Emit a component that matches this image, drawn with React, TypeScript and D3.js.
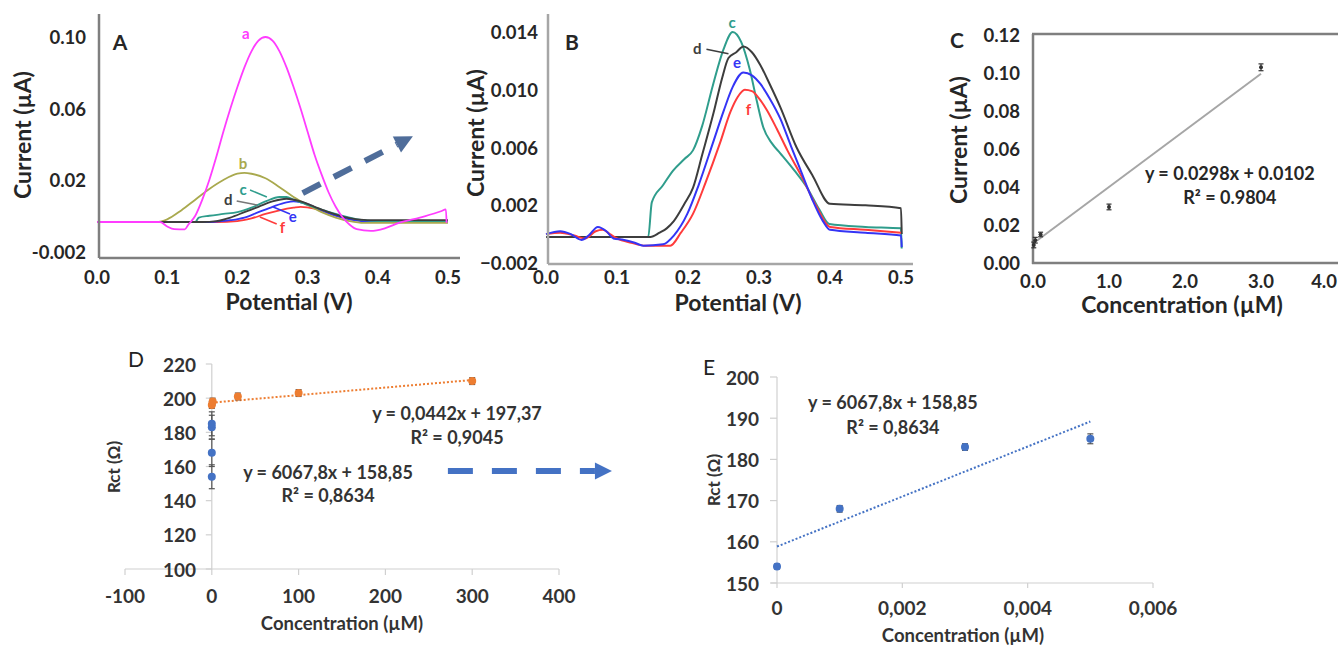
import React, { useEffect, useRef } from 'react';
import * as d3 from 'd3';

type Pt = [number, number];

// ---- Panel A: DPV curves (potential V, current uA) ----
const curveA_a: Pt[] = [[0, -0.0035], [0.09, -0.0035], [0.1, -0.006], [0.11, -0.0075], [0.125, -0.0076], [0.13, -0.005], [0.14, 0.0], [0.15, 0.009], [0.16, 0.02], [0.17, 0.033], [0.18, 0.047], [0.19, 0.06], [0.2, 0.072], [0.21, 0.083], [0.22, 0.092], [0.23, 0.098], [0.24, 0.1], [0.25, 0.098], [0.26, 0.092], [0.27, 0.083], [0.28, 0.072], [0.29, 0.06], [0.3, 0.047], [0.31, 0.034], [0.32, 0.023], [0.33, 0.013], [0.34, 0.005], [0.35, -0.001], [0.36, -0.005], [0.37, -0.0075], [0.39, -0.0085], [0.41, -0.007], [0.43, -0.004], [0.46, -0.001], [0.49, 0.0025], [0.497, 0.0036], [0.498, -0.004]];
const curveA_b: Pt[] = [[0, -0.0035], [0.085, -0.0035], [0.1, -0.002], [0.12, 0.003], [0.14, 0.009], [0.16, 0.015], [0.18, 0.02], [0.2, 0.0235], [0.21, 0.024], [0.22, 0.0235], [0.24, 0.021], [0.26, 0.016], [0.28, 0.0105], [0.3, 0.006], [0.32, 0.002], [0.34, -0.001], [0.36, -0.003], [0.38, -0.004], [0.5, -0.004]];
const curveA_c: Pt[] = [[0, -0.0035], [0.14, -0.0035], [0.145, -0.001], [0.16, 0.0], [0.18, 0.001], [0.2, 0.002], [0.22, 0.0045], [0.24, 0.008], [0.26, 0.0105], [0.27, 0.0105], [0.28, 0.009], [0.3, 0.006], [0.32, 0.0035], [0.34, 0.001], [0.36, -0.001], [0.38, -0.0025], [0.4, -0.003], [0.5, -0.003]];
const curveA_d: Pt[] = [[0, -0.0035], [0.15, -0.0035], [0.17, -0.003], [0.19, -0.001], [0.21, 0.002], [0.23, 0.005], [0.25, 0.008], [0.27, 0.0095], [0.29, 0.008], [0.31, 0.005], [0.33, 0.002], [0.35, -0.0005], [0.37, -0.002], [0.4, -0.0025], [0.5, -0.0025]];
const curveA_e: Pt[] = [[0, -0.0035], [0.16, -0.0035], [0.19, -0.0025], [0.21, -0.001], [0.23, 0.002], [0.25, 0.005], [0.27, 0.0075], [0.28, 0.008], [0.3, 0.0065], [0.32, 0.003], [0.34, 0.0], [0.36, -0.002], [0.38, -0.003], [0.5, -0.0033]];
const curveA_f: Pt[] = [[0, -0.0035], [0.17, -0.0035], [0.2, -0.003], [0.22, -0.0015], [0.24, 0.001], [0.26, 0.003], [0.28, 0.0045], [0.29, 0.005], [0.31, 0.004], [0.33, 0.0015], [0.35, -0.001], [0.37, -0.0025], [0.4, -0.0033], [0.5, -0.0035]];

const ticksA_x = [0, 0.1, 0.2, 0.3, 0.4, 0.5];
const tickLabelsA_x = ['0.0', '0.1', '0.2', '0.3', '0.4', '0.5'];
const ticksA_y = [-0.02, 0.02, 0.06, 0.1];
const tickLabelsA_y = ['-0.002', '0.02', '0.06', '0.10'];

// ---- Panel B: zoom on curves c-f ----
const curveB_c: Pt[] = [[0, -0.0002], [0.1, -0.0002], [0.144, -0.0002], [0.149, 0.0022], [0.165, 0.0034], [0.179, 0.0044], [0.195, 0.0052], [0.207, 0.0058], [0.22, 0.0075], [0.235, 0.0103], [0.25, 0.0128], [0.263, 0.014], [0.275, 0.0133], [0.287, 0.0114], [0.297, 0.0092], [0.306, 0.0074], [0.318, 0.0063], [0.33, 0.0056], [0.35, 0.0044], [0.368, 0.0032], [0.385, 0.0017], [0.399, 0.0007], [0.45, 0.0005], [0.5, 0.0004], [0.501, -0.001]];
const curveB_d: Pt[] = [[0, -0.0002], [0.147, -0.0002], [0.16, 0.0001], [0.17, 0.0004], [0.18, 0.0009], [0.195, 0.0021], [0.207, 0.0032], [0.22, 0.0055], [0.236, 0.0084], [0.248, 0.0108], [0.257, 0.0122], [0.268, 0.0126], [0.278, 0.013], [0.29, 0.0126], [0.302, 0.0117], [0.315, 0.0104], [0.33, 0.0088], [0.353, 0.006], [0.375, 0.0041], [0.4, 0.0021], [0.45, 0.002], [0.5, 0.0018], [0.501, 0.0]];
const curveB_e: Pt[] = [[0, 0.0], [0.02, 0.0002], [0.035, 0.0], [0.05, -0.0004], [0.06, -0.0001], [0.073, 0.0005], [0.085, 0.0002], [0.095, -0.0003], [0.11, -0.0004], [0.125, -0.0006], [0.137, -0.0008], [0.165, -0.0007], [0.18, -0.0001], [0.199, 0.0014], [0.215, 0.0034], [0.235, 0.0063], [0.25, 0.0085], [0.263, 0.0102], [0.278, 0.0112], [0.29, 0.011], [0.302, 0.0104], [0.315, 0.0094], [0.33, 0.008], [0.345, 0.0061], [0.358, 0.0045], [0.375, 0.0024], [0.39, 0.0009], [0.4, 0.0003], [0.45, 0.0001], [0.5, -0.0001], [0.501, -0.0009]];
const curveB_f: Pt[] = [[0, 0.0], [0.02, 0.0001], [0.04, -0.0001], [0.055, -0.0003], [0.07, 0.0002], [0.08, 0.0003], [0.09, 0.0], [0.1, -0.0003], [0.12, -0.0006], [0.14, -0.0008], [0.175, -0.0008], [0.19, 0.0001], [0.207, 0.0014], [0.225, 0.0036], [0.245, 0.0063], [0.26, 0.0085], [0.27, 0.0095], [0.28, 0.01], [0.29, 0.0099], [0.3, 0.0094], [0.311, 0.0086], [0.325, 0.0073], [0.34, 0.0058], [0.36, 0.004], [0.38, 0.002], [0.4, 0.0005], [0.45, 0.0003], [0.5, 0.0001]];

const ticksB_x = [0, 0.1, 0.2, 0.3, 0.4, 0.5];
const ticksB_y = [-0.002, 0.002, 0.006, 0.01, 0.014];

// ---- Panel C: calibration ----
const concC = [0.01, 0.03, 0.1, 1.0, 3.0];
const currentC = [0.0095, 0.012, 0.015, 0.0295, 0.103];
const errC = [0.0015, 0.0015, 0.0012, 0.0015, 0.0018];
const fitC = { slope: 0.0298, intercept: 0.0102, from: 0.05, to: 3.0 };
const ticksC_x = [0, 1, 2, 3, 4];
const ticksC_y = [0, 0.02, 0.04, 0.06, 0.08, 0.1, 0.12];

// ---- Panel D: Rct vs concentration ----
const concD_high = [0, 1, 30, 100, 300];
const rctD_high = [196, 198, 201, 203, 210];
const errD_high = [2, 2, 2, 2, 2];
const concD_low = [0, 0.001, 0.003, 0.005];
const rctD_low = [154, 168, 183, 185];
const errD_low = [7, 8, 7, 7];
const fitD = { slope: 0.0442, intercept: 197.37, from: 0, to: 300 };
const ticksD_x = [-100, 0, 100, 200, 300, 400];
const ticksD_y = [100, 120, 140, 160, 180, 200, 220];

// ---- Panel E: low range ----
const concE = [0, 0.001, 0.003, 0.005];
const rctE = [154, 168, 183, 185];
const errE = [0.6, 0.8, 0.8, 1.2];
const fitE = { slope: 6067.8, intercept: 158.85, from: 0, to: 0.005 };
const ticksE_x = [0, 0.002, 0.004, 0.006];
const tickLabelsE_x = ['0', '0,002', '0,004', '0,006'];
const ticksE_y = [150, 160, 170, 180, 190, 200];

const FONT = 'Lato, "Open Sans", sans-serif';

export default function App() {
  const ref = useRef<SVGSVGElement>(null);

  useEffect(() => {
    const svg = d3.select(ref.current);
    svg.selectAll('*').remove();

    const text = (x: number, y: number, s: string, size: number, opts: any = {}) => {
      const t = svg.append('text')
        .attr('x', x).attr('y', y)
        .attr('font-family', FONT)
        .attr('font-size', size)
        .attr('font-weight', opts.weight || 'bold')
        .attr('fill', opts.color || '#262626')
        .attr('text-anchor', opts.anchor || 'middle')
        .attr('dominant-baseline', 'central')
        .text(s);
      if (opts.rotate) t.attr('transform', `rotate(-90, ${x}, ${y})`);
      return t;
    };
    const seg = (x1: number, y1: number, x2: number, y2: number, color: string, w: number) =>
      svg.append('line').attr('x1', x1).attr('y1', y1).attr('x2', x2).attr('y2', y2)
        .attr('stroke', color).attr('stroke-width', w);

    const dashedArrow = (x1: number, y1: number, x2: number, y2: number, color: string, w: number, dash: string, head: number) => {
      const ang = Math.atan2(y2 - y1, x2 - x1);
      const bx = x2 - Math.cos(ang) * head;
      const by = y2 - Math.sin(ang) * head;
      svg.append('line').attr('x1', x1).attr('y1', y1).attr('x2', bx).attr('y2', by)
        .attr('stroke', color).attr('stroke-width', w).attr('stroke-dasharray', dash);
      const px = -Math.sin(ang) * head * 0.5, py = Math.cos(ang) * head * 0.5;
      svg.append('polygon')
        .attr('points', `${x2},${y2} ${bx + px},${by + py} ${bx - px},${by - py}`)
        .attr('fill', color);
    };

    // ================= Panel A =================
    const xA = d3.scaleLinear().domain([0, 0.5]).range([97, 448]);
    const yA = d3.scaleLinear().domain([-0.02, 0.1]).range([251.5, 37]);
    const lineA = d3.line<Pt>().x(d => xA(d[0])).y(d => yA(d[1])).curve(d3.curveMonotoneX);
    const seriesA: [Pt[], string][] = [
      [curveA_f, '#ff3b3b'], [curveA_e, '#3434f5'], [curveA_b, '#a9a94e'],
      [curveA_c, '#2f9d8c'], [curveA_d, '#3d3d3d'], [curveA_a, '#ff3cff'],
    ];
    seriesA.forEach(([data, color]) => {
      svg.append('path').attr('d', lineA(data)).attr('fill', 'none')
        .attr('stroke', color).attr('stroke-width', 1.8);
    });
    seg(99, 14, 99, 258, '#7f7f7f', 2.5);
    seg(99, 258, 460, 258, '#7f7f7f', 2.5);
    ticksA_x.forEach((v, i) => text(xA(v), 277, tickLabelsA_x[i], 18.5));
    ticksA_y.forEach((v, i) => text(86, yA(v), tickLabelsA_y[i], 18.5, { anchor: 'end' }));
    text(289, 301, 'Potential (V)', 23);
    text(22, 135, 'Current  (µA)', 23, { rotate: true });
    text(120, 41, 'A', 21);
    // curve letters
    text(xA(0.212), yA(0.1025), 'a', 15, { color: '#ff3cff' });
    text(xA(0.208), yA(0.0295), 'b', 15, { color: '#a9a94e' });
    text(xA(0.208), yA(0.015), 'c', 15, { color: '#2f9d8c' });
    text(xA(0.187), yA(0.0094), 'd', 15, { color: '#3d3d3d' });
    text(xA(0.279), yA(-0.0001), 'e', 15, { color: '#3434f5' });
    text(xA(0.264), yA(-0.0063), 'f', 15, { color: '#ff3b3b' });
    seg(xA(0.218), yA(0.0144), xA(0.242), yA(0.0105), '#2f9d8c', 1.5);
    seg(xA(0.199), yA(0.0083), xA(0.228), yA(0.006), '#777', 1.5);
    seg(xA(0.251), yA(0.0049), xA(0.275), yA(0.001), '#3434f5', 1.5);
    seg(xA(0.232), yA(-0.0007), xA(0.256), yA(-0.0046), '#ff3b3b', 1.5);
    dashedArrow(xA(0.293), yA(0.0127), xA(0.450), yA(0.0445), '#4f6d9a', 6, '20,15', 18);

    // ================= Panel B =================
    const xB = d3.scaleLinear().domain([0, 0.5]).range([546, 901]);
    const yB = d3.scaleLinear().domain([-0.002, 0.014]).range([263, 32]);
    const lineB = d3.line<Pt>().x(d => xB(d[0])).y(d => yB(d[1])).curve(d3.curveMonotoneX);
    const seriesB: [Pt[], string][] = [
      [curveB_c, '#2f9d8c'], [curveB_d, '#3d3d3d'], [curveB_f, '#ff3b3b'], [curveB_e, '#3434f5'],
    ];
    seriesB.forEach(([data, color]) => {
      svg.append('path').attr('d', lineB(data)).attr('fill', 'none')
        .attr('stroke', color).attr('stroke-width', 2);
    });
    seg(548, 14, 548, 264, '#a6a6a6', 2.5);
    seg(548, 264, 913, 264, '#a6a6a6', 2.5);
    ticksB_x.forEach(v => text(xB(v), 277, d3.format('.1f')(v), 18.5));
    ticksB_y.forEach(v => text(538, yB(v), d3.format('.3f')(v), 18.5, { anchor: 'end' }));
    text(738, 302, 'Potential (V)', 23);
    text(475, 133, 'Current  (µA)', 23, { rotate: true });
    text(572, 41, 'B', 21);
    text(xB(0.262), yB(0.0147), 'c', 15, { color: '#2f9d8c' });
    text(xB(0.213), yB(0.0129), 'd', 15, { color: '#3d3d3d' });
    seg(xB(0.226), yB(0.0128), xB(0.257), yB(0.0125), '#3d3d3d', 1.5);
    text(xB(0.269), yB(0.0119), 'e', 15, { color: '#3434f5' });
    text(xB(0.285), yB(0.0087), 'f', 15, { color: '#ff3b3b' });

    // ================= Panel C =================
    const xC = d3.scaleLinear().domain([0, 4]).range([1033, 1337]);
    const yC = d3.scaleLinear().domain([0, 0.12]).range([263, 35]);
    seg(1033, 34, 1033, 264, '#7f7f7f', 2.5);
    seg(1032, 34, 1338, 34, '#7f7f7f', 2.5);
    seg(1032, 263, 1338, 263, '#7f7f7f', 2.5);
    svg.append('line')
      .attr('x1', xC(fitC.from)).attr('y1', yC(fitC.slope * fitC.from + fitC.intercept))
      .attr('x2', xC(fitC.to)).attr('y2', yC(fitC.slope * fitC.to + fitC.intercept))
      .attr('stroke', '#a6a6a6').attr('stroke-width', 2);
    concC.forEach((c, i) => {
      const x = xC(c);
      seg(x, yC(currentC[i] - errC[i]), x, yC(currentC[i] + errC[i]), '#333', 1.2);
      seg(x - 2.5, yC(currentC[i] - errC[i]), x + 2.5, yC(currentC[i] - errC[i]), '#333', 1.2);
      seg(x - 2.5, yC(currentC[i] + errC[i]), x + 2.5, yC(currentC[i] + errC[i]), '#333', 1.2);
      svg.append('circle').attr('cx', x).attr('cy', yC(currentC[i])).attr('r', 2).attr('fill', '#333');
    });
    ticksC_x.forEach((v, i) => {
      const last = i === ticksC_x.length - 1;
      text(last ? 1337 : xC(v), 281, d3.format('.1f')(v), 18.5, { anchor: last ? 'end' : 'middle' });
    });
    ticksC_y.forEach(v => text(1020, yC(v), d3.format('.2f')(v), 18.5, { anchor: 'end' }));
    text(1182, 304, 'Concentration (µM)', 23);
    text(958, 140, 'Current  (µA)', 23, { rotate: true });
    text(957, 39, 'C', 21);
    text(xC(2.59), yC(0.0474), 'y = 0.0298x + 0.0102', 18);
    text(xC(2.59), yC(0.0347), 'R² = 0.9804', 18);

    // ================= Panel D =================
    const xD = d3.scaleLinear().domain([-100, 400]).range([125, 559]);
    const yD = d3.scaleLinear().domain([100, 220]).range([569, 364]);
    const axisGray = '#d0d0d0';
    seg(xD(0), yD(220), xD(0), yD(100), axisGray, 1.2);
    seg(xD(-100), yD(100), xD(400), yD(100), axisGray, 1.2);
    ticksD_x.forEach(v => {
      seg(xD(v), yD(100), xD(v), yD(100) + 6, axisGray, 1.2);
      text(xD(v), 595, String(v), 19, { color: '#333' });
    });
    ticksD_y.forEach(v => {
      seg(xD(0) - 6, yD(v), xD(0), yD(v), axisGray, 1.2);
      text(196, yD(v), String(v), 19, { anchor: 'end', color: '#333' });
    });
    svg.append('line')
      .attr('x1', xD(fitD.from)).attr('y1', yD(fitD.slope * fitD.from + fitD.intercept))
      .attr('x2', xD(fitD.to)).attr('y2', yD(fitD.slope * fitD.to + fitD.intercept))
      .attr('stroke', '#ed7d31').attr('stroke-width', 2).attr('stroke-dasharray', '2,2');
    const errMarks = (xs: number[], ys: number[], es: number[], x: any, y: any, color: string, barColor: string, cap: number) => {
      xs.forEach((c, i) => {
        const px = x(c);
        seg(px, y(ys[i] - es[i]), px, y(ys[i] + es[i]), barColor, 1.2);
        seg(px - cap, y(ys[i] - es[i]), px + cap, y(ys[i] - es[i]), barColor, 1.2);
        seg(px - cap, y(ys[i] + es[i]), px + cap, y(ys[i] + es[i]), barColor, 1.2);
      });
      xs.forEach((c, i) => {
        svg.append('circle').attr('cx', x(c)).attr('cy', y(ys[i])).attr('r', 4).attr('fill', color);
      });
    };
    errMarks(concD_low, rctD_low, errD_low, xD, yD, '#4472c4', '#555', 3);
    errMarks(concD_high, rctD_high, errD_high, xD, yD, '#ed7d31', '#555', 3);
    text(342, 623, 'Concentration (µM)', 18.5, { color: '#333' });
    text(113, 467, 'Rct (Ω)', 17, { rotate: true, color: '#333' });
    text(136, 358, 'D', 21, { weight: 'normal', color: '#222' });
    text(xD(282.5), yD(191.3), 'y = 0,0442x + 197,37', 18, { color: '#333' });
    text(xD(282.5), yD(177.3), 'R² = 0,9045', 18, { color: '#333' });
    text(xD(133.9), yD(156.8), 'y = 6067,8x + 158,85', 18, { color: '#333' });
    text(xD(133.9), yD(143.3), 'R² = 0,8634', 18, { color: '#333' });
    dashedArrow(xD(272), yD(157.4), xD(461), yD(157.4), '#4472c4', 6, '25,19', 17);

    // ================= Panel E =================
    const xE = d3.scaleLinear().domain([0, 0.006]).range([777, 1153]);
    const yE = d3.scaleLinear().domain([150, 200]).range([583, 377]);
    seg(xE(0), yE(200), xE(0), yE(150), axisGray, 1.2);
    seg(xE(0) - 6, yE(150), xE(0.006), yE(150), axisGray, 1.2);
    ticksE_x.forEach((v, i) => {
      seg(xE(v), yE(150), xE(v), yE(150) + 5, axisGray, 1.2);
      text(xE(v), 607, tickLabelsE_x[i], 19, { color: '#333' });
    });
    ticksE_y.forEach(v => {
      seg(xE(0) - 7, yE(v), xE(0), yE(v), axisGray, 1.2);
      text(759, yE(v), String(v), 19, { anchor: 'end', color: '#333' });
    });
    svg.append('line')
      .attr('x1', xE(fitE.from)).attr('y1', yE(fitE.slope * fitE.from + fitE.intercept))
      .attr('x2', xE(fitE.to)).attr('y2', yE(fitE.slope * fitE.to + fitE.intercept))
      .attr('stroke', '#4472c4').attr('stroke-width', 2).attr('stroke-dasharray', '2,2');
    errMarks(concE, rctE, errE, xE, yE, '#4472c4', '#555', 3);
    text(963, 635, 'Concentration (µM)', 18.5, { color: '#333' });
    text(713, 480, 'Rct (Ω)', 17, { rotate: true, color: '#333' });
    text(709, 366, 'E', 21, { weight: 'normal', color: '#222' });
    text(xE(0.00185), yE(193.9), 'y = 6067,8x + 158,85', 18, { color: '#333' });
    text(xE(0.00185), yE(187.9), 'R² = 0,8634', 18, { color: '#333' });
  }, []);

  return (
    <svg ref={ref} width={1338} height={645}
      style={{ position: 'absolute', left: 0, top: 0, background: '#fff' }} />
  );
}
